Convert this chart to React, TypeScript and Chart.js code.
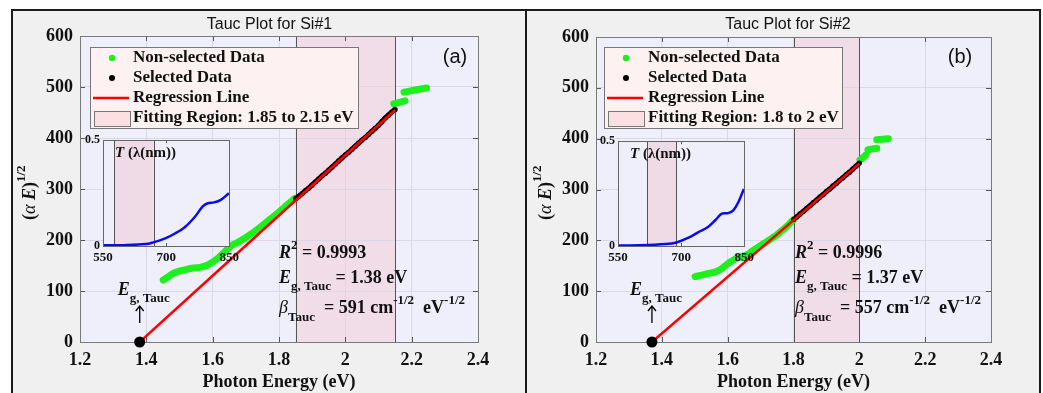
import React, { useEffect, useRef } from 'react';
import { Chart, registerables } from 'chart.js';
Chart.register(...registerables);

const SERIF = "'Liberation Serif', 'Times New Roman', serif";
const SANS = "'Liberation Sans', Arial, sans-serif";

// ---------- data ----------
const xTicks = [1.2, 1.4, 1.6, 1.8, 2.0, 2.2, 2.4];
const yTicks = [0, 100, 200, 300, 400, 500, 600];
const insetXTicks = [550, 700, 850];
const insetYTicks = [0, 0.5];
const legendLabels = ['Non-selected Data', 'Selected Data', 'Regression Line'];

// Panel (a) Si#1
const fitRange1 = [1.85, 2.15];
const eg1 = 1.38;
const r2Text1 = '0.9993';
const egText1 = '1.38 eV';
const betaText1 = '591';
const lowE1 = [1.451, 1.466, 1.481, 1.5, 1.522, 1.542, 1.562, 1.582, 1.602, 1.617, 1.632, 1.652, 1.672, 1.692, 1.712, 1.733, 1.753, 1.773, 1.793, 1.813, 1.83, 1.848];
const lowV1 = [121.6, 128, 134.6, 139, 142.5, 145, 146.4, 150, 157.5, 165, 173.9, 186.9, 194, 201.4, 210, 219.6, 230, 240.5, 251, 262, 272, 281.7];
const highE1a = [2.146, 2.163, 2.18];
const highV1a = [467, 470, 473];
const highE1b = [2.177, 2.21, 2.245];
const highV1b = [490, 494, 498];
const selE1 = [1.85, 1.86, 1.87, 1.88, 1.89, 1.9, 1.91, 1.92, 1.93, 1.94, 1.95, 1.96, 1.97, 1.98, 1.99, 2.0, 2.01, 2.02, 2.03, 2.04, 2.05, 2.06, 2.07, 2.08, 2.09, 2.1, 2.11, 2.12, 2.13, 2.14, 2.15];
const selV1 = [281, 286, 291, 297, 302, 308, 314, 320, 326, 331, 337, 343, 349, 355, 361, 367, 372, 378, 384, 390, 396, 401, 407, 413, 419, 425, 432, 439, 445, 451, 456];
const regE1 = [1.38, 2.15];
const regV1 = [0, 455];
const insetWl1 = [550, 600, 652, 669, 698, 721, 745, 768, 787, 799, 814, 830, 849];
const insetT1 = [0.003, 0.004, 0.009, 0.017, 0.036, 0.059, 0.09, 0.137, 0.187, 0.202, 0.206, 0.218, 0.249];

// Panel (b) Si#2
const fitRange2 = [1.8, 2.0];
const eg2 = 1.37;
const r2Text2 = '0.9996';
const egText2 = '1.37 eV';
const betaText2 = '557';
const lowE2 = [1.501, 1.518, 1.536, 1.554, 1.572, 1.587, 1.602, 1.615, 1.627, 1.643, 1.658, 1.673, 1.688, 1.703, 1.719, 1.734, 1.749, 1.764, 1.779, 1.799];
const lowV2 = [128.6, 131, 133.9, 136.5, 140.4, 147, 154.9, 160, 164.8, 168, 171.3, 178, 184.4, 191, 197.4, 204, 210.6, 219, 227, 240];
const highE2a = [2.002, 2.01, 2.02];
const highV2a = [358, 362, 368];
const highE2b = [2.026, 2.04, 2.053];
const highV2b = [378, 380, 381];
const highE2c = [2.053, 2.07, 2.088];
const highV2c = [398, 399, 400];
const selE2 = [1.8, 1.81, 1.82, 1.83, 1.84, 1.85, 1.86, 1.87, 1.88, 1.89, 1.9, 1.91, 1.92, 1.93, 1.94, 1.95, 1.96, 1.97, 1.98, 1.99, 2.0];
const selV2 = [241, 246, 252, 257, 263, 268, 274, 279, 285, 290, 296, 301, 307, 312, 318, 323, 329, 334, 340, 346, 352];
const regE2 = [1.37, 2.0];
const regV2 = [0, 351];
const insetWl2 = [550, 600, 664, 689, 719, 742, 762, 781, 797, 812, 824, 836, 849];
const insetT2 = [0.002, 0.003, 0.009, 0.017, 0.041, 0.067, 0.088, 0.123, 0.154, 0.157, 0.17, 0.209, 0.272];

// ---------- helpers ----------
type Part = { t: string; f: string; dy?: number };
function drawRich(ctx: CanvasRenderingContext2D, x: number, y: number, parts: Part[]) {
  let cx = x;
  ctx.textAlign = 'left';
  ctx.textBaseline = 'middle';
  for (const p of parts) {
    ctx.font = p.f;
    ctx.fillText(p.t, cx, y + (p.dy || 0));
    cx += ctx.measureText(p.t).width;
  }
}
const B18 = `bold 18px ${SERIF}`;
const BI18 = `italic bold 18px ${SERIF}`;
const I18 = `italic 18px ${SERIF}`;
const B13 = `bold 13px ${SERIF}`;
const B17 = `bold 17px ${SERIF}`;

const GREEN = '#1ef01e';
const LAV = '#efeffc';
const PINK = '#f0dde8';
const GRID = '#d8d8e6';
const AXIS = '#7a7a7a';

function pts(xs: number[], ys: number[]) {
  return xs.map((x, i) => ({ x, y: ys[i] }));
}

interface PanelCfg {
  left: number; top: number; width: number; height: number;
  plot: { l: number; t: number; r: number; b: number };
  title: string; titleX: number; tag: string; tagX: number;
  legendW: number; textX: number;
  fitRange: number[]; fitLabel: string;
  eg: number; r2: string; egText: string; beta: string;
  lowE: number[]; lowV: number[]; highE: number[][]; highV: number[][];
  selE: number[]; selV: number[]; regE: number[]; regV: number[];
  yTitleX: number;
  inset: { left: number; top: number; width: number; height: number; plot: { l: number; t: number; r: number; b: number }; wl: number[]; tr: number[] };
}

const panels: PanelCfg[] = [
  {
    left: 13, top: 11, width: 512, height: 382,
    plot: { l: 67, t: 25, r: 465, b: 331 },
    title: 'Tauc Plot for Si#1', titleX: 256.5, tag: '(a)', tagX: 442,
    legendW: 268, textX: 120,
    fitRange: fitRange1, fitLabel: 'Fitting Region: 1.85 to 2.15 eV',
    eg: eg1, r2: r2Text1, egText: egText1, beta: betaText1,
    lowE: lowE1, lowV: lowV1, highE: [highE1a, highE1b], highV: [highV1a, highV1b],
    selE: selE1, selV: selV1, regE: regE1, regV: regV1,
    yTitleX: 17,
    inset: { left: 83, top: 130, width: 160, height: 137, plot: { l: 20, t: 9, r: 149, b: 116 }, wl: insetWl1, tr: insetT1 },
  },
  {
    left: 527, top: 11, width: 512, height: 382,
    plot: { l: 69, t: 26, r: 464, b: 331 },
    title: 'Tauc Plot for Si#2', titleX: 261, tag: '(b)', tagX: 433,
    legendW: 238, textX: 121,
    fitRange: fitRange2, fitLabel: 'Fitting Region: 1.8 to 2 eV',
    eg: eg2, r2: r2Text2, egText: egText2, beta: betaText2,
    lowE: lowE2, lowV: lowV2, highE: [highE2a, highE2b, highE2c], highV: [highV2a, highV2b, highV2c],
    selE: selE2, selV: selV2, regE: regE2, regV: regV2,
    yTitleX: 19,
    inset: { left: 598, top: 131, width: 160, height: 137, plot: { l: 20, t: 9, r: 148, b: 115 }, wl: insetWl2, tr: insetT2 },
  },
];

function Panel({ cfg }: { cfg: PanelCfg }) {
  const mainRef = useRef<HTMLCanvasElement>(null);
  const insetRef = useRef<HTMLCanvasElement>(null);

  useEffect(() => {
    const green: any[] = pts(cfg.lowE, cfg.lowV);
    cfg.highE.forEach((es, k) => {
      green.push({ x: es[0], y: null });
      es.forEach((e, i) => green.push({ x: e, y: cfg.highV[k][i] }));
    });

    const decor = {
      id: 'decor',
      beforeDraw(chart: any) {
        const { ctx, chartArea: ca, scales } = chart;
        const xs = scales.x;
        ctx.save();
        ctx.fillStyle = LAV;
        ctx.fillRect(ca.left, ca.top, ca.right - ca.left, ca.bottom - ca.top);
        const x0 = xs.getPixelForValue(cfg.fitRange[0]);
        const x1 = xs.getPixelForValue(cfg.fitRange[1]);
        ctx.fillStyle = PINK;
        ctx.fillRect(x0, ca.top, x1 - x0, ca.bottom - ca.top);
        ctx.restore();
      },
      beforeDatasetsDraw(chart: any) {
        const { ctx, chartArea: ca, scales } = chart;
        const xs = scales.x, ys = scales.y;
        ctx.save();
        ctx.strokeStyle = '#555';
        ctx.lineWidth = 1;
        for (const v of cfg.fitRange) {
          const px = Math.round(xs.getPixelForValue(v)) + 0.5;
          ctx.beginPath(); ctx.moveTo(px, ca.top); ctx.lineTo(px, ca.bottom); ctx.stroke();
        }
        ctx.strokeStyle = '#555';
        for (const v of xTicks) {
          const px = Math.round(xs.getPixelForValue(v)) + 0.5;
          ctx.beginPath(); ctx.moveTo(px, ca.bottom); ctx.lineTo(px, ca.bottom - 5);
          ctx.moveTo(px, ca.top); ctx.lineTo(px, ca.top + 5); ctx.stroke();
        }
        for (const v of yTicks) {
          const py = Math.round(ys.getPixelForValue(v)) + 0.5;
          ctx.beginPath(); ctx.moveTo(ca.left, py); ctx.lineTo(ca.left + 5, py);
          ctx.moveTo(ca.right, py); ctx.lineTo(ca.right - 5, py); ctx.stroke();
        }
        ctx.strokeStyle = AXIS;
        ctx.strokeRect(Math.round(ca.left) + 0.5, Math.round(ca.top) + 0.5, Math.round(ca.right - ca.left), Math.round(ca.bottom - ca.top));
        ctx.restore();
      },
      afterDraw(chart: any) {
        const { ctx, chartArea: ca, scales } = chart;
        const xs = scales.x;
        ctx.save();
        ctx.fillStyle = '#111';
        // title
        ctx.font = `16px ${SANS}`;
        ctx.textAlign = 'center';
        ctx.textBaseline = 'middle';
        ctx.fillText(cfg.title, cfg.titleX, 14);
        // tag
        ctx.font = `20px ${SANS}`;
        ctx.fillText(cfg.tag, cfg.tagX, 46);
        // x title
        ctx.font = B18;
        ctx.fillText('Photon Energy (eV)', (ca.left + ca.right) / 2, 371);
        // y title
        ctx.save();
        ctx.translate(cfg.yTitleX, 209);
        ctx.rotate(-Math.PI / 2);
        drawRich(ctx, 0, 0, [
          { t: '(', f: B18 }, { t: 'α', f: I18 }, { t: ' ', f: B18 }, { t: 'E', f: BI18 }, { t: ')', f: B18 },
          { t: '1/2', f: B13, dy: -8 },
        ]);
        ctx.restore();
        // legend
        const lx = 77, ly = 36, lh = 81;
        ctx.fillStyle = '#fdf1f1';
        ctx.fillRect(lx, ly, cfg.legendW, lh);
        ctx.strokeStyle = '#777';
        ctx.lineWidth = 1;
        ctx.strokeRect(lx + 0.5, ly + 0.5, cfg.legendW, lh);
        const rows = [47, 67, 87, 107];
        ctx.fillStyle = GREEN;
        ctx.beginPath(); ctx.arc(99, rows[0], 3.2, 0, Math.PI * 2); ctx.fill();
        ctx.fillStyle = '#000';
        ctx.beginPath(); ctx.arc(99, rows[1], 3, 0, Math.PI * 2); ctx.fill();
        ctx.strokeStyle = '#ff0000';
        ctx.lineWidth = 2.5;
        ctx.beginPath(); ctx.moveTo(80, rows[2]); ctx.lineTo(116, rows[2]); ctx.stroke();
        ctx.fillStyle = '#fbdfe2';
        ctx.fillRect(81, 100, 36, 15);
        ctx.strokeStyle = '#777';
        ctx.lineWidth = 1;
        ctx.strokeRect(81.5, 100.5, 36, 15);
        ctx.fillStyle = '#111';
        ctx.font = B17;
        ctx.textAlign = 'left';
        ctx.textBaseline = 'middle';
        legendLabels.forEach((t, i) => ctx.fillText(t, cfg.textX, rows[i]));
        ctx.fillText(cfg.fitLabel, cfg.textX, rows[3]);
        // stats annotations
        const ax = ca.left + 199;
        drawRich(ctx, ax, 242, [{ t: 'R', f: BI18 }, { t: '2', f: B13, dy: -7 }, { t: ' = ' + cfg.r2, f: B18 }]);
        drawRich(ctx, ax, 267, [{ t: 'E', f: BI18 }, { t: 'g, Tauc', f: B13, dy: 9 }, { t: ' = ' + cfg.egText, f: B18 }]);
        drawRich(ctx, ax, 297, [
          { t: 'β', f: I18 }, { t: 'Tauc', f: B13, dy: 10 }, { t: '  = ' + cfg.beta + ' cm', f: B18 },
          { t: '-1/2', f: B13, dy: -7 }, { t: '  eV', f: B18 }, { t: '-1/2', f: B13, dy: -7 },
        ]);
        // Eg label + arrow
        const ex = xs.getPixelForValue(cfg.eg);
        drawRich(ctx, ex - 22, ca.bottom - 52, [{ t: 'E', f: BI18 }, { t: 'g, Tauc', f: B13, dy: 9 }]);
        ctx.strokeStyle = '#000';
        ctx.lineWidth = 1.3;
        ctx.beginPath();
        ctx.moveTo(ex, ca.bottom - 19); ctx.lineTo(ex, ca.bottom - 36);
        ctx.moveTo(ex - 4, ca.bottom - 31); ctx.lineTo(ex, ca.bottom - 36); ctx.lineTo(ex + 4, ca.bottom - 31);
        ctx.stroke();
        ctx.restore();
      },
    };

    const fmt = (v: any) => String(Number(Number(v).toFixed(1)));
    const main = new Chart(mainRef.current!, {
      type: 'scatter',
      data: {
        datasets: [
          { label: 'Eg', data: [{ x: cfg.eg, y: 0 }], pointRadius: 5.5, pointBackgroundColor: '#000', pointBorderWidth: 0, showLine: false, clip: false, order: 0 } as any,
          { label: 'Regression Line', data: pts(cfg.regE, cfg.regV), showLine: true, borderColor: '#ff0000', borderWidth: 2.5, pointRadius: 0, order: 1 },
          { label: 'Selected Data', data: pts(cfg.selE, cfg.selV), showLine: true, borderColor: '#000', borderWidth: 5, pointRadius: 2.6, pointBackgroundColor: '#000', pointBorderWidth: 0, order: 2 },
          { label: 'Non-selected Data', data: green, showLine: true, borderColor: GREEN, borderWidth: 7, borderCapStyle: 'round', borderJoinStyle: 'round', pointRadius: 0, tension: 0.3, spanGaps: false, order: 3 } as any,
        ],
      },
      options: {
        responsive: false,
        animation: false,
        events: [],
        layout: { padding: { left: 0, top: cfg.plot.t, right: cfg.width - cfg.plot.r, bottom: 0 } },
        plugins: { legend: { display: false }, tooltip: { enabled: false }, title: { display: false } },
        scales: {
          x: {
            type: 'linear', min: 1.2, max: 2.4,
            afterFit: (s: any) => { s.height = cfg.height - cfg.plot.b; },
            afterBuildTicks: (s: any) => { s.ticks = xTicks.map((v) => ({ value: v })); },
            ticks: { font: { family: SERIF, size: 18, weight: 'bold' }, color: '#111', padding: 8, maxRotation: 0, autoSkip: false, callback: fmt },
            grid: { color: GRID, drawTicks: false, lineWidth: 1 },
            border: { display: false },
          },
          y: {
            type: 'linear', min: 0, max: 600,
            afterFit: (s: any) => { s.width = cfg.plot.l; },
            afterBuildTicks: (s: any) => { s.ticks = yTicks.map((v) => ({ value: v })); },
            ticks: { font: { family: SERIF, size: 18, weight: 'bold' }, color: '#111', padding: 7, autoSkip: false },
            grid: { color: GRID, drawTicks: false, lineWidth: 1 },
            border: { display: false },
          },
        },
      } as any,
      plugins: [decor],
    });

    const ins = cfg.inset;
    const wlFit = [1240 / cfg.fitRange[1], 1240 / cfg.fitRange[0]];
    const insetDecor = {
      id: 'insetDecor',
      beforeDraw(chart: any) {
        const { ctx, chartArea: ca, scales } = chart;
        ctx.save();
        ctx.fillStyle = LAV;
        ctx.fillRect(ca.left, ca.top, ca.right - ca.left, ca.bottom - ca.top);
        const x0 = scales.x.getPixelForValue(wlFit[0]);
        const x1 = scales.x.getPixelForValue(wlFit[1]);
        ctx.fillStyle = '#efdbe6';
        ctx.fillRect(x0, ca.top, x1 - x0, ca.bottom - ca.top);
        ctx.strokeStyle = '#555';
        ctx.lineWidth = 1;
        for (const px0 of [x0, x1]) {
          const px = Math.round(px0) + 0.5;
          ctx.beginPath(); ctx.moveTo(px, ca.top); ctx.lineTo(px, ca.bottom); ctx.stroke();
        }
        ctx.restore();
      },
      afterDraw(chart: any) {
        const { ctx, chartArea: ca, scales } = chart;
        ctx.save();
        ctx.strokeStyle = '#555';
        ctx.lineWidth = 1;
        for (const v of insetXTicks) {
          const px = Math.round(scales.x.getPixelForValue(v)) + 0.5;
          ctx.beginPath(); ctx.moveTo(px, ca.bottom); ctx.lineTo(px, ca.bottom - 3);
          ctx.moveTo(px, ca.top); ctx.lineTo(px, ca.top + 3); ctx.stroke();
        }
        ctx.strokeStyle = '#666';
        ctx.strokeRect(Math.round(ca.left) + 0.5, Math.round(ca.top) + 0.5, Math.round(ca.right - ca.left), Math.round(ca.bottom - ca.top));
        ctx.fillStyle = '#111';
        drawRich(ctx, ca.left + 12, ca.top + 13, [{ t: 'T', f: `italic bold 15px ${SERIF}` }, { t: ' (λ(nm))', f: `bold 15px ${SERIF}` }]);
        ctx.restore();
      },
    };
    const inset = new Chart(insetRef.current!, {
      type: 'scatter',
      data: {
        datasets: [
          { label: 'T', data: pts(ins.wl, ins.tr), showLine: true, borderColor: '#0b0bef', borderWidth: 2.5, pointRadius: 0, tension: 0.35 },
        ],
      },
      options: {
        responsive: false,
        animation: false,
        events: [],
        layout: { padding: { left: 0, top: ins.plot.t, right: ins.width - ins.plot.r, bottom: 0 } },
        plugins: { legend: { display: false }, tooltip: { enabled: false } },
        scales: {
          x: {
            type: 'linear', min: 550, max: 850,
            afterFit: (s: any) => { s.height = ins.height - ins.plot.b; },
            afterBuildTicks: (s: any) => { s.ticks = insetXTicks.map((v) => ({ value: v })); },
            ticks: { font: { family: SERIF, size: 13, weight: 'bold' }, color: '#111', padding: 4, maxRotation: 0, autoSkip: false },
            grid: { display: false, drawTicks: false },
            border: { display: false },
          },
          y: {
            type: 'linear', min: 0, max: 0.5,
            afterFit: (s: any) => { s.width = ins.plot.l; },
            afterBuildTicks: (s: any) => { s.ticks = insetYTicks.map((v) => ({ value: v })); },
            ticks: { font: { family: SERIF, size: 12, weight: 'bold' }, color: '#111', padding: 3, autoSkip: false, callback: (v: any) => String(v) },
            grid: { display: false, drawTicks: false },
            border: { display: false },
          },
        },
      } as any,
      plugins: [insetDecor],
    });

    return () => {
      main.destroy();
      inset.destroy();
    };
  }, [cfg]);

  return (
    <>
      <canvas ref={mainRef} width={cfg.width} height={cfg.height}
        style={{ position: 'absolute', left: cfg.left, top: cfg.top, width: cfg.width, height: cfg.height, display: 'block' }} />
      <canvas ref={insetRef} width={cfg.inset.width} height={cfg.inset.height}
        style={{ position: 'absolute', left: cfg.inset.left, top: cfg.inset.top, width: cfg.inset.width, height: cfg.inset.height, display: 'block' }} />
    </>
  );
}

export default function App() {
  return (
    <div style={{ position: 'absolute', left: 0, top: 0, width: 1043, height: 393, background: '#ffffff', overflow: 'hidden' }}>
      <div style={{ position: 'absolute', left: 11, top: 9, width: 1030, height: 400, boxSizing: 'border-box', border: '2px solid #1a1a1a', background: '#f0f0f0' }} />
      <div style={{ position: 'absolute', left: 525, top: 9, width: 2, height: 400, background: '#1a1a1a' }} />
      {panels.map((p, i) => <Panel key={i} cfg={p} />)}
    </div>
  );
}
